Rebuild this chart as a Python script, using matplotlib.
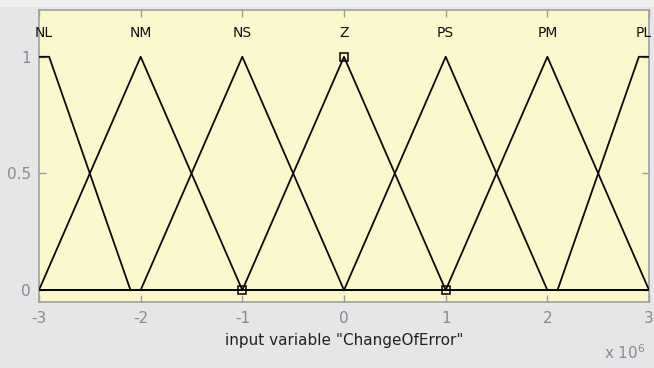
import matplotlib
matplotlib.use("Agg")
import matplotlib.pyplot as plt
import numpy as np

# Membership functions of the input variable (units of 1e6)
names = ["NL", "NM", "NS", "Z", "PS", "PM", "PL"]
mf_x = [
    [-3.0, -2.9, -2.1],      # NL (left shoulder, flat from -3)
    [-3.0, -2.0, -1.0],      # NM
    [-2.0, -1.0, 0.0],       # NS
    [-1.0, 0.0, 1.0],        # Z
    [0.0, 1.0, 2.0],         # PS
    [1.0, 2.0, 3.0],         # PM
    [2.1, 2.9, 3.0],         # PL (right shoulder, flat to 3)
]
mf_y = [
    [1.0, 1.0, 0.0],
    [0.0, 1.0, 0.0],
    [0.0, 1.0, 0.0],
    [0.0, 1.0, 0.0],
    [0.0, 1.0, 0.0],
    [0.0, 1.0, 0.0],
    [0.0, 1.0, 1.0],
]
label_x = [-2.95, -2.0, -1.0, 0.0, 1.0, 2.0, 2.95]
selected = 3  # "Z" is highlighted with vertex markers

x_ticks = [-3, -2, -1, 0, 1, 2, 3]
y_ticks = [0, 0.5, 1]
y_tick_labels = ["0", "0.5", "1"]
xlabel = 'input variable "ChangeOfError"'

plt.rcParams["font.family"] = "DejaVu Sans"

fig = plt.figure(figsize=(6.54, 3.68), dpi=100)
fig.patch.set_facecolor("#e6e6e6")
fig.patches.append(plt.Rectangle((0, 0.980), 1, 0.020, transform=fig.transFigure,
                                 facecolor="#f0f0f0", edgecolor="none", zorder=0))
ax = fig.add_axes([0.0596, 0.180, 0.9328, 0.7925])
ax.set_facecolor("#fbf8ce")

ax.axhline(0, color="black", lw=1.4, zorder=2)
for i, (xs, ys) in enumerate(zip(mf_x, mf_y)):
    ax.plot(xs, ys, color="#0a0a0a", lw=1.3, zorder=3)
    ax.text(label_x[i], 1.10, names[i], ha="center", va="center",
            fontsize=10, color="#111111")

ax.plot(mf_x[selected], mf_y[selected], linestyle="none", marker="s",
        markersize=6, markerfacecolor="none", markeredgecolor="black",
        markeredgewidth=1.1, zorder=4)

ax.set_xlim(-3, 3)
ax.set_ylim(-0.05, 1.2)
ax.set_xticks(x_ticks)
ax.set_xticklabels([str(t) for t in x_ticks])
ax.set_yticks(y_ticks)
ax.set_yticklabels(y_tick_labels)
tick_color = "#868896"
ax.tick_params(direction="in", length=5, width=1, color="#9a9a9a",
               labelcolor=tick_color, labelsize=11, top=True, right=True,
               pad=6)
ax.tick_params(axis="x", pad=7)
for s in ax.spines.values():
    s.set_color("#a0a0a0")
    s.set_linewidth(1.2)

ax.set_xlabel(xlabel, fontsize=11, color="#222222", labelpad=5)
fig.text(0.987, 0.043, r"x 10$^{6}$", ha="right", va="center", fontsize=11,
         color=tick_color)

fig.savefig("out.png", dpi=100, facecolor=fig.get_facecolor())
